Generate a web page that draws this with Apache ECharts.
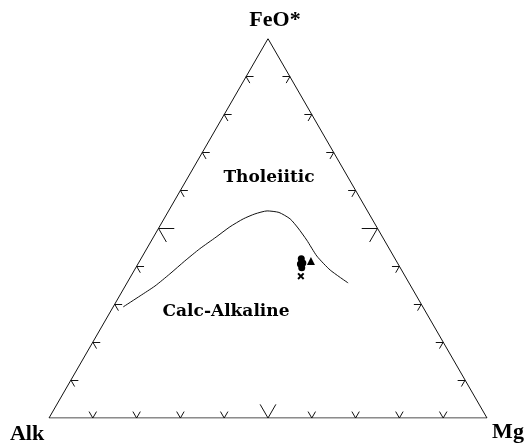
<!DOCTYPE html>
<html>
<head>
<meta charset="utf-8">
<script src="https://cdn.jsdelivr.net/npm/echarts@6/dist/echarts.min.js"></script>
<style>html,body{margin:0;padding:0;background:#fff;}#c{width:527px;height:444px;}</style>
</head>
<body>
<div id="c"></div>
<script>
// Ternary data: [Alk, FeO*, Mg] in percent
const vertexNames = ['Alk', 'FeO*', 'Mg'];
const vertices = [[100, 0, 0], [0, 100, 0], [0, 0, 100]];
const tickValues = [10, 20, 30, 40, 50, 60, 70, 80, 90];
const majorTick = 50;
const boundaryCurve = [
  [68.5, 29.3, 2.3], [63.1, 32.2, 4.7], [58.4, 34.8, 6.8], [53.4, 38.0, 8.6],
  [48.3, 41.4, 10.3], [43.3, 44.6, 12.1], [38.0, 47.7, 14.3], [33.5, 50.4, 16.1],
  [29.5, 52.5, 18.1], [26.1, 53.8, 20.1], [22.9, 54.6, 22.5], [20.4, 54.2, 25.4],
  [18.7, 52.5, 28.8], [18.1, 50.1, 31.8], [17.6, 46.9, 35.4], [17.5, 42.7, 39.8],
  [16.3, 39.0, 44.7], [13.9, 35.6, 50.5]
];
const samplesCircle = [[21.4, 42.0, 36.6], [22.3, 40.6, 37.1], [21.6, 40.9, 37.5], [22.5, 39.6, 37.9]];
const samplesTriangle = [[19.5, 41.4, 39.1]];
const samplesCross = [[23.8, 37.4, 38.8]];
const fieldLabels = ['Tholeiitic', 'Calc-Alkaline'];

const H = Math.sqrt(3) / 2;
function toXY(t) {
  const f = t[1] / 100, m = t[2] / 100;
  return [m + f / 2, f * H];
}

// Tick segments along grid-line directions into the triangle
const smallLen = 1.7, bigLen = 3.6;
const tickSegs = [];
tickValues.forEach(v => {
  const d = v === majorTick ? bigLen : smallLen;
  // left edge (Mg = 0), FeO = v
  let p = [100 - v, v, 0];
  tickSegs.push([p, [p[0] - d, p[1], p[2] + d]]);
  tickSegs.push([p, [p[0], p[1] - d, p[2] + d]]);
  // bottom edge (FeO = 0), Mg = v
  p = [100 - v, 0, v];
  tickSegs.push([p, [p[0] - d, p[1] + d, p[2]]]);
  tickSegs.push([p, [p[0], p[1] + d, p[2] - d]]);
  // right edge (Alk = 0), FeO = v
  p = [0, v, 100 - v];
  tickSegs.push([p, [p[0] + d, p[1], p[2] - d]]);
  tickSegs.push([p, [p[0] + d, p[1] - d, p[2]]]);
});

const chart = echarts.init(document.getElementById('c'), null, {renderer: 'canvas'});
const black = '#111';
const gl = 49, gt = 38.7, gw = 438, gh = 438 * H;
const serif = '"Liberation Serif", "DejaVu Serif", serif';

chart.setOption({
  animation: false,
  backgroundColor: '#fff',
  grid: {left: gl, top: gt, width: gw, height: gh},
  xAxis: {type: 'value', min: 0, max: 1, show: false},
  yAxis: {type: 'value', min: 0, max: H, show: false},
  series: [
    {
      type: 'line', silent: true, symbol: 'none',
      data: [...vertices, vertices[0]].map(toXY),
      lineStyle: {color: black, width: 1}
    },
    {
      type: 'lines', coordinateSystem: 'cartesian2d', silent: true,
      data: tickSegs.map(s => ({coords: s.map(toXY)})),
      lineStyle: {color: black, width: 1, opacity: 1}
    },
    {
      type: 'line', silent: true, symbol: 'none', smooth: 0.2,
      data: boundaryCurve.map(toXY),
      lineStyle: {color: black, width: 1, join: 'round'}
    },
    {
      type: 'scatter', symbol: 'circle', symbolSize: 7,
      data: samplesCircle.map(toXY), itemStyle: {color: '#000', opacity: 1}
    },
    {
      type: 'scatter', symbol: 'triangle', symbolSize: 8,
      data: samplesTriangle.map(toXY), itemStyle: {color: '#000', opacity: 1}
    },
    {
      type: 'scatter', symbol: 'path://M0,2L2,0L5,3L8,0L10,2L7,5L10,8L8,10L5,7L2,10L0,8L3,5Z', symbolSize: 7,
      data: samplesCross.map(toXY), itemStyle: {color: '#000', opacity: 1}
    }
  ],
  graphic: [
    {type: 'text', x: 275, y: 20, style: {text: vertexNames[1], font: 'bold 22px ' + serif, fill: '#000', align: 'center', verticalAlign: 'middle'}},
    {type: 'text', x: 27, y: 434, style: {text: vertexNames[0], font: 'bold 22px ' + serif, fill: '#000', align: 'center', verticalAlign: 'middle'}},
    {type: 'text', x: 508, y: 432, style: {text: vertexNames[2], font: 'bold 22px ' + serif, fill: '#000', align: 'center', verticalAlign: 'middle'}},
    {type: 'text', x: 269, y: 178, style: {text: fieldLabels[0], font: 'bold 17px "DejaVu Serif", serif', fill: '#000', align: 'center', verticalAlign: 'middle'}},
    {type: 'text', x: 226, y: 312, style: {text: fieldLabels[1], font: 'bold 17px "DejaVu Serif", serif', fill: '#000', align: 'center', verticalAlign: 'middle'}}
  ]
});
</script>
</body>
</html>
